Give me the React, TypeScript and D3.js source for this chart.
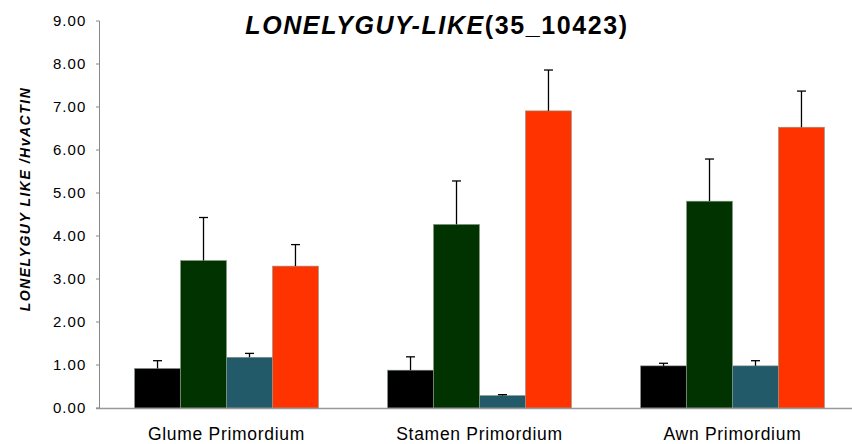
import React from "react";
import * as d3 from "d3";

const categories = ["Glume Primordium", "Stamen Primordium", "Awn Primordium"];
const seriesNames = ["s1", "s2", "s3", "s4"];
const seriesColors = ["#000000", "#003300", "#235A69", "#FF3300"];
const values = [
  [0.92, 3.43, 1.18, 3.3],
  [0.88, 4.27, 0.29, 6.91],
  [0.98, 4.81, 0.98, 6.53],
];
const errors = [
  [0.18, 1.0, 0.09, 0.5],
  [0.31, 1.01, 0.02, 0.95],
  [0.06, 0.98, 0.12, 0.84],
];
const yTicks = [0, 1, 2, 3, 4, 5, 6, 7, 8, 9];

export default function App() {
  const W = 852, H = 444;
  const x0 = d3.scaleBand().domain(categories).range([100, 859]).paddingInner(0.273).paddingOuter(0.1365);
  const x1 = d3.scaleBand().domain(seriesNames).range([0, x0.bandwidth()]);
  const y = d3.scaleLinear().domain([0, 9]).range([408, 21]);
  const font = "'Liberation Sans', Arial, sans-serif";
  return (
    <svg width={W} height={H} style={{ display: "block", position: "absolute", left: 0, top: 0 }} fontFamily={font}>
      <rect width={W} height={H} fill="#fff" />
      {categories.map((c, ci) =>
        seriesNames.map((s, si) => {
          const v = values[ci][si];
          const bx = (x0(c) as number) + (x1(s) as number);
          const bw = x1.bandwidth();
          const cx = bx + bw / 2;
          const e = errors[ci][si];
          return (
            <g key={c + s}>
              <rect x={bx} y={y(v)} width={bw} height={y(0) - y(v)} fill={seriesColors[si]} stroke="#8a9a8a" strokeWidth={0.6} />
              <line x1={cx} x2={cx} y1={y(v)} y2={y(v + e)} stroke="#000" strokeWidth={1.3} />
              <line x1={cx - 4.5} x2={cx + 4.5} y1={y(v + e)} y2={y(v + e)} stroke="#000" strokeWidth={1.3} />
            </g>
          );
        })
      )}
      <line x1={99.5} x2={99.5} y1={y(9)} y2={y(0)} stroke="#888" strokeWidth={1} />
      <line x1={96} x2={W} y1={y(0) + 0.5} y2={y(0) + 0.5} stroke="#999" strokeWidth={1.5} />
      {yTicks.map((t) => (
        <g key={t}>
          <line x1={96} x2={99.5} y1={y(t)} y2={y(t)} stroke="#888" strokeWidth={1} />
          <text x={86.5} y={y(t)} dy="0.35em" textAnchor="end" fontSize={15} letterSpacing={1.1} fill="#000">
            {d3.format(".2f")(t)}
          </text>
        </g>
      ))}
      {categories.map((c) => (
        <text key={c} x={(x0(c) as number) + x0.bandwidth() / 2} y={440} textAnchor="middle" fontSize={17.5} letterSpacing={0.7} fill="#000">
          {c}
        </text>
      ))}
      <text x={437} y={34} textAnchor="middle" fontSize={25} letterSpacing={1.6} fontWeight="bold" fill="#000">
        <tspan fontStyle="italic">LONELYGUY-LIKE</tspan>
        <tspan>(35_10423)</tspan>
      </text>
      <text transform="translate(30,199) rotate(-90)" textAnchor="middle" fontSize={14} letterSpacing={1.5} fontWeight="bold" fontStyle="italic" fill="#000">
        LONELYGUY LIKE /HvACTIN
      </text>
    </svg>
  );
}
